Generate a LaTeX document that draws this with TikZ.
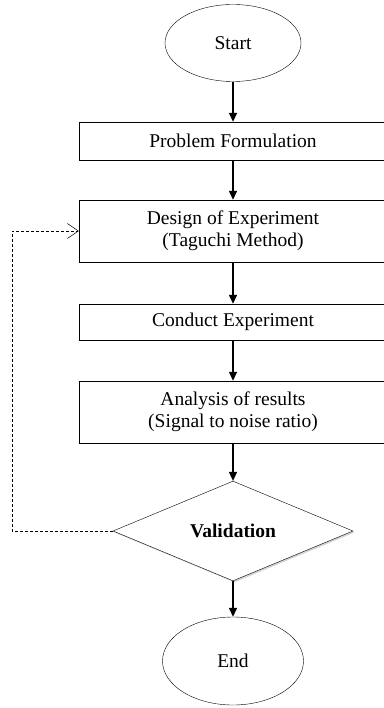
\documentclass[tikz,border=0pt]{standalone}
\usepackage{fontspec}
\setmainfont{Liberation Serif}
\usepackage{tikz}
\usetikzlibrary{shapes.geometric,arrows.meta,shadows}

\tikzset{
  term/.style={ellipse, draw, inner sep=0pt},
  stepbox/.style={rectangle, draw, minimum width=308pt, inner sep=0pt, align=center},
  decide/.style={diamond, draw, fill=white, inner sep=0pt, minimum width=240pt, minimum height=95pt,
    drop shadow={shadow xshift=1.5pt, shadow yshift=-1.5pt, opacity=0.35}},
  flow/.style={line width=1.4pt, -{Triangle[length=9pt,width=8pt]}},
  feedback/.style={densely dashed, line width=0.5pt, -{Straight Barb[length=11pt,width=15pt]}}
}

\begin{document}
\begin{tikzpicture}[x=1pt, y=-1pt, font=\fontsize{19.5}{22}\selectfont]
\useasboundingbox (0,0) rectangle (383,708);
% terminals
\node[term, minimum width=136pt, minimum height=77pt] (start) at (233,43) {Start};
\node[term, minimum width=141pt, minimum height=88pt] (end) at (233,661) {End};

% process boxes
\node[stepbox, minimum height=38pt] (prob) at (233,141) {Problem Formulation};
\node[stepbox, minimum height=62pt] (design) at (233,231) {Design of Experiment\\(Taguchi Method)};
\node[stepbox, minimum height=36pt] (conduct) at (233,322) {Conduct Experiment};
\node[stepbox, minimum height=62pt] (analysis) at (233,412) {Analysis of results\\(Signal to noise ratio)};

% decision
\node[decide] (valid) at (233,531) {\textbf{Validation}};

% arrows
\draw[flow] (start) -- (prob);
\draw[flow] (prob) -- (design);
\draw[flow] (design) -- (conduct);
\draw[flow] (conduct) -- (analysis);
\draw[flow] (analysis) -- (valid);
\draw[flow] (valid) -- (end);

% loop back
\coordinate (back) at (12,231);
\draw[feedback] (valid.west) -| (back) -- (design.west);
\end{tikzpicture}
\end{document}
